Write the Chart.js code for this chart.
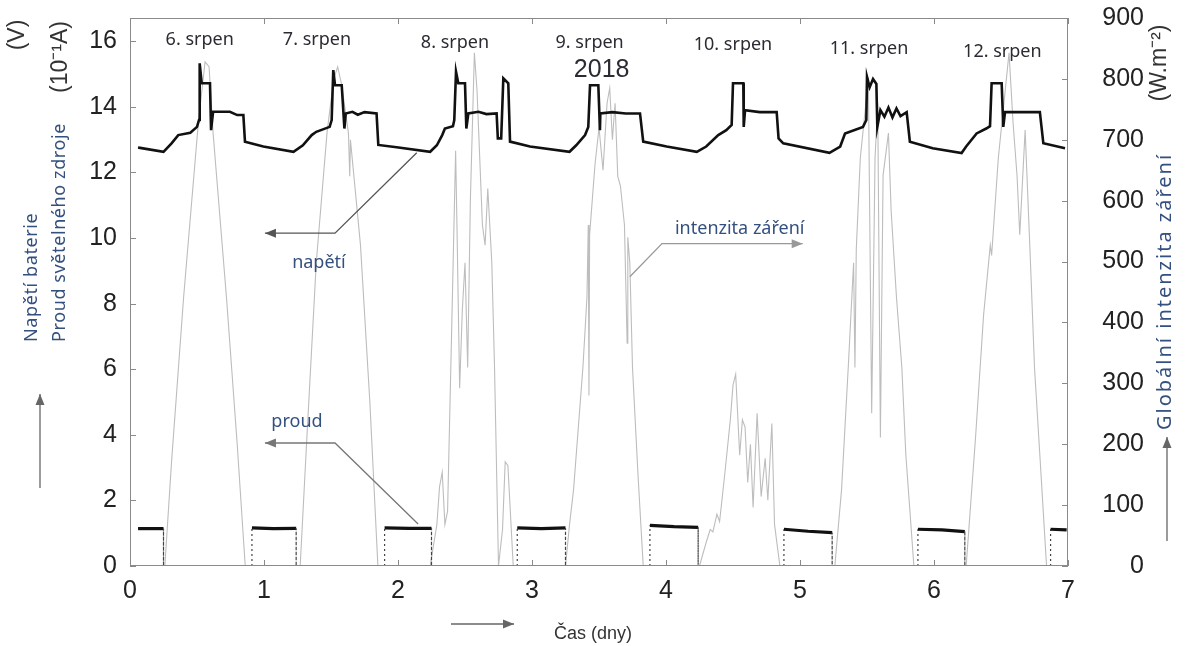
<!DOCTYPE html>
<html>
<head>
<meta charset="utf-8">
<script src="https://cdn.jsdelivr.net/npm/chart.js@4.4.1/dist/chart.umd.min.js"></script>
<style>
  html, body { margin: 0; padding: 0; background: #fff; }
  #wrap { width: 1186px; height: 646px; }
</style>
</head>
<body>
<div id="wrap"><canvas id="myChart" width="1186" height="646"></canvas></div>
<script>
'use strict';

// cas ve dnech od 6. srpna 2018 00:00
let napetiDny = [
  0.06, 0.075, 0.25, 0.31, 0.36, 0.45, 0.50, 0.515, 0.52, 0.535, 0.597, 0.605, 0.62, 0.70, 0.746, 0.80, 0.846, 0.858, 0.995, 1.22,
  1.29, 1.356, 1.39, 1.49, 1.505, 1.517, 1.53, 1.58, 1.60, 1.61, 1.66, 1.70, 1.75, 1.84, 1.853, 1.99, 2.24,
  2.29, 2.33, 2.35, 2.41, 2.42, 2.433, 2.45, 2.50, 2.51, 2.525, 2.60, 2.66, 2.736, 2.745, 2.77, 2.786, 2.823, 2.836, 2.985, 3.28,
  3.33, 3.396, 3.42, 3.433, 3.495, 3.507, 3.51, 3.60, 3.70, 3.806, 3.83, 4.005, 4.23,
  4.30, 4.39, 4.45, 4.49, 4.50, 4.577, 4.58, 4.59, 4.70, 4.826, 4.84, 4.875, 5.22,
  5.30, 5.336, 5.47, 5.495, 5.50, 5.52, 5.545, 5.57, 5.577, 5.60, 5.63, 5.66, 5.69, 5.72, 5.75, 5.796, 5.82, 5.99, 6.206,
  6.24, 6.318, 6.39, 6.418, 6.43, 6.505, 6.517, 6.53, 6.65, 6.79, 6.816, 6.978
];
let napetiV = [
  12.76, 12.75, 12.63, 12.89, 13.14, 13.21, 13.39, 13.60, 15.33, 14.72, 14.72, 13.29, 13.85, 13.85, 13.85, 13.75, 13.75, 12.94, 12.79, 12.63,
  12.83, 13.14, 13.24, 13.39, 13.60, 15.12, 14.66, 14.66, 13.34, 13.80, 13.85, 13.76, 13.84, 13.80, 12.84, 12.77, 12.63,
  12.83, 13.14, 13.34, 13.41, 13.60, 15.07, 14.72, 14.72, 13.34, 13.80, 13.85, 13.78, 13.80, 13.04, 13.04, 14.87, 14.72, 12.94, 12.79, 12.63,
  12.83, 13.14, 13.39, 14.66, 14.66, 13.29, 13.80, 13.84, 13.80, 13.80, 12.94, 12.79, 12.63,
  12.79, 13.14, 13.29, 13.45, 14.72, 14.72, 13.39, 13.90, 13.84, 13.84, 13.04, 12.89, 12.60,
  12.79, 13.19, 13.39, 13.60, 14.92, 14.60, 14.85, 14.70, 13.39, 13.90, 13.70, 13.98, 13.68, 13.95, 13.72, 13.84, 12.94, 12.74, 12.59,
  12.79, 13.19, 13.34, 13.41, 14.72, 14.72, 13.39, 13.84, 13.84, 13.84, 12.89, 12.74
];

// proud svetelneho zdroje (10^-1 A), noc: null = prerusena cara
let proudDny = [
  0.06, 0.25, 0.25, 0.2501,
  0.91, 0.91, 1.07, 1.24, 1.24, 1.2401,
  1.90, 1.90, 2.08, 2.25, 2.25, 2.2501,
  2.89, 2.89, 3.07, 3.25, 3.25, 3.2501,
  3.88, 3.88, 4.06, 4.24, 4.24, 4.2401,
  4.88, 4.88, 5.06, 5.24, 5.24, 5.2401,
  5.88, 5.88, 6.06, 6.23, 6.23, 6.2301,
  6.87, 6.87, 6.99
];
let proudA = [
  1.14, 1.14, 0, null,
  0, 1.16, 1.14, 1.15, 0, null,
  0, 1.16, 1.15, 1.15, 0, null,
  0, 1.16, 1.14, 1.16, 0, null,
  0, 1.24, 1.20, 1.18, 0, null,
  0, 1.12, 1.06, 1.02, 0, null,
  0, 1.12, 1.10, 1.05, 0, null,
  0, 1.12, 1.10
];

// globalni intenzita zareni (W.m^-2)
let zareniDny = [
  0.00, 0.26, 0.31, 0.40, 0.51, 0.56, 0.59, 0.62, 0.72, 0.80, 0.86,
  1.27, 1.32, 1.39, 1.47, 1.52, 1.55, 1.58, 1.63, 1.64, 1.645, 1.72, 1.79, 1.85,
  2.24, 2.29, 2.31, 2.33, 2.35, 2.37, 2.40, 2.43, 2.44, 2.46, 2.48, 2.50, 2.52, 2.54, 2.57, 2.59, 2.61, 2.63, 2.65, 2.67, 2.70, 2.72, 2.75, 2.78, 2.80, 2.82, 2.86,
  3.25, 3.28, 3.31, 3.34, 3.38, 3.41, 3.42, 3.425, 3.43, 3.47, 3.50, 3.53, 3.56, 3.58, 3.60, 3.62, 3.64, 3.66, 3.69, 3.71, 3.715, 3.73, 3.75, 3.79, 3.83,
  4.25, 4.30, 4.33, 4.35, 4.38, 4.40, 4.44, 4.48, 4.50, 4.52, 4.55, 4.57, 4.59, 4.61, 4.63, 4.65, 4.68, 4.71, 4.74, 4.76, 4.79, 4.81, 4.85,
  5.26, 5.31, 5.36, 5.40, 5.41, 5.42, 5.45, 5.49, 5.51, 5.535, 5.56, 5.58, 5.60, 5.62, 5.66, 5.68, 5.72, 5.76, 5.79, 5.85,
  6.24, 6.31, 6.37, 6.42, 6.43, 6.48, 6.52, 6.56, 6.59, 6.62, 6.64, 6.68, 6.72, 6.75, 6.79, 6.84, 7.00
];
let zareniW = [
  0, 0, 171, 441, 728, 828, 820, 711, 441, 200, 0,
  0, 211, 498, 711, 800, 820, 790, 711, 640, 700, 527, 269, 0,
  0, 68, 130, 154, 68, 90, 383, 682, 560, 292, 420, 498, 326, 600, 843, 780, 670, 560, 527, 620, 498, 330, 0, 60, 171, 165, 0,
  0, 68, 125, 211, 326, 441, 560, 280, 544, 659, 720, 650, 760, 785, 700, 760, 640, 624, 560, 366, 540, 498, 326, 154, 0,
  0, 39, 60, 56, 85, 73, 154, 240, 297, 315, 182, 240, 228, 137, 200, 96, 251, 114, 177, 108, 234, 68, 0,
  0, 125, 326, 498, 326, 520, 670, 756, 802, 251, 670, 760, 211, 642, 711, 584, 441, 326, 182, 0,
  0, 211, 412, 527, 510, 670, 756, 843, 728, 640, 544, 716, 498, 326, 182, 0, 0
];

let dnyTicks = [0, 1, 2, 3, 4, 5, 6, 7];
let leveTicks = [0, 2, 4, 6, 8, 10, 12, 14, 16];
let praveTicks = [0, 100, 200, 300, 400, 500, 600, 700, 800, 900];

let popiskyDnu = ['6. srpen', '7. srpen', '8. srpen', '9. srpen', '10. srpen', '11. srpen', '12. srpen'];
let popiskyX = [0.52, 1.395, 2.425, 3.43, 4.50, 5.515, 6.51];
let popiskyY = [16.04, 16.04, 15.95, 15.95, 15.88, 15.76, 15.67];

function toPoints(xs, ys) {
  let pts = [];
  for (let i = 0; i < xs.length; i++) {
    pts.push({ x: xs[i], y: ys[i] });
  }
  return pts;
}

function drawArrow(c, pts, color) {
  c.strokeStyle = color;
  c.fillStyle = color;
  c.lineWidth = 1.3;
  c.beginPath();
  c.moveTo(pts[0][0], pts[0][1]);
  for (let i = 1; i < pts.length; i++) {
    c.lineTo(pts[i][0], pts[i][1]);
  }
  c.stroke();
  let n = pts.length;
  let ang = Math.atan2(pts[n - 1][1] - pts[n - 2][1], pts[n - 1][0] - pts[n - 2][0]);
  let tx = pts[n - 1][0];
  let ty = pts[n - 1][1];
  c.beginPath();
  c.moveTo(tx, ty);
  c.lineTo(tx - 11 * Math.cos(ang) + 4.5 * Math.sin(ang), ty - 11 * Math.sin(ang) - 4.5 * Math.cos(ang));
  c.lineTo(tx - 11 * Math.cos(ang) - 4.5 * Math.sin(ang), ty - 11 * Math.sin(ang) + 4.5 * Math.cos(ang));
  c.closePath();
  c.fill();
}

function rotatedText(c, text, x, y, align) {
  c.save();
  c.translate(x, y);
  c.rotate(-Math.PI / 2);
  c.textAlign = align;
  c.textBaseline = 'middle';
  c.fillText(text, 0, 0);
  c.restore();
}

// bez automatickych okraju kvuli popiskum os
function noPad(s) {
  s.paddingTop = 0;
  s.paddingBottom = 0;
  s.paddingLeft = 0;
  s.paddingRight = 0;
}

let extrasPlugin = {
  id: 'extras',
  afterDatasetsDraw(chart) {
    let c = chart.ctx;
    let a = chart.chartArea;
    let xs = chart.scales.x;
    let ys = chart.scales.y;
    let ys2 = chart.scales.y2;
    let px = v => xs.getPixelForValue(v);
    let py = v => ys.getPixelForValue(v);

    c.save();
    // ramecek a vnitrni znacky
    c.strokeStyle = '#8a8a8a';
    c.lineWidth = 1;
    c.strokeRect(a.left + 0.5, a.top + 0.5, a.right - a.left - 1, a.bottom - a.top - 1);
    c.beginPath();
    leveTicks.forEach(t => {
      let y = Math.round(py(t)) + 0.5;
      c.moveTo(a.left, y); c.lineTo(a.left + 6, y);
    });
    praveTicks.forEach(t => {
      let y = Math.round(ys2.getPixelForValue(t)) + 0.5;
      c.moveTo(a.right, y); c.lineTo(a.right - 6, y);
    });
    dnyTicks.forEach(t => {
      let x = Math.round(px(t)) + 0.5;
      c.moveTo(x, a.top); c.lineTo(x, a.top + 6);
      c.moveTo(x, a.bottom); c.lineTo(x, a.bottom - 6);
    });
    c.stroke();

    // popisky dnu
    c.fillStyle = '#2b2b33';
    c.font = '18px "Noto Sans"';
    c.textAlign = 'center';
    c.textBaseline = 'middle';
    popiskyDnu.forEach((s, i) => {
      c.fillText(s, px(popiskyX[i]), py(popiskyY[i]));
    });
    c.font = '25px "Liberation Sans"';
    c.fillText('2018', px(3.52), py(15.12));

    // sipky k jednotlivym krivkam
    drawArrow(c, [[px(2.14), py(12.6)], [px(1.53), py(10.15)], [px(1.007), py(10.15)]], '#555');
    drawArrow(c, [[px(2.15), py(1.28)], [px(1.53), py(3.75)], [px(1.007), py(3.75)]], '#777');
    drawArrow(c, [[px(3.73), py(8.82)], [px(3.97), py(9.83)], [px(5.02), py(9.83)]], '#999');

    c.fillStyle = '#34507f';
    c.font = '18px "Noto Sans"';
    c.fillText('napětí', px(1.41), py(9.24));
    c.fillText('proud', px(1.246), py(4.39));
    c.fillText('intenzita záření', px(4.55), py(10.27));

    // popisky os
    c.fillStyle = '#34507f';
    c.font = '18px "Noto Sans"';
    c.letterSpacing = '0.6px';
    rotatedText(c, 'Napětí baterie', 32, 342, 'left');
    rotatedText(c, 'Proud světelného zdroje', 60, 342, 'left');
    c.font = '20px "Noto Sans"';
    c.letterSpacing = '2px';
    rotatedText(c, 'Globální intenzita záření', 1165, 430, 'left');
    c.letterSpacing = '0px';

    c.fillStyle = '#333';
    c.font = '23px "Liberation Sans"';
    rotatedText(c, '(V)', 18, 35, 'center');
    rotatedText(c, '(10\u207B\u00B9A)', 61, 57, 'center');
    rotatedText(c, '(W.m\u207B\u00B2)', 1160, 63, 'center');

    c.font = '18px "Liberation Sans"';
    c.textAlign = 'left';
    c.fillText('Čas (dny)', 554, 634);

    drawArrow(c, [[40, 488], [40, 394]], '#666');
    drawArrow(c, [[1167, 541], [1167, 437]], '#666');
    drawArrow(c, [[451, 624], [514, 624]], '#666');
    c.restore();
  }
};

let ctx = document.getElementById('myChart');

let tickFont = { family: '"Liberation Sans", Arial, sans-serif', size: 25 };

new Chart(ctx, {
  type: 'line',
  data: {
    datasets: [
      {
        label: 'napětí',
        data: toPoints(napetiDny, napetiV),
        yAxisID: 'y',
        borderColor: '#111',
        borderWidth: 2.6,
        pointRadius: 0,
        tension: 0
      },
      {
        label: 'proud',
        data: toPoints(proudDny, proudA),
        yAxisID: 'y',
        borderColor: '#111',
        borderWidth: 3.2,
        pointRadius: 0,
        spanGaps: false,
        tension: 0,
        segment: {
          borderDash: s => (s.p0.parsed.x === s.p1.parsed.x ? [2, 3] : undefined),
          borderWidth: s => (s.p0.parsed.x === s.p1.parsed.x ? 1.2 : undefined),
          borderColor: s => (s.p0.parsed.x === s.p1.parsed.x ? '#444' : undefined)
        }
      },
      {
        label: 'intenzita záření',
        data: toPoints(zareniDny, zareniW),
        yAxisID: 'y2',
        borderColor: '#bdbdbd',
        borderWidth: 1.1,
        pointRadius: 0,
        tension: 0
      }
    ]
  },
  options: {
    responsive: false,
    animation: false,
    devicePixelRatio: 1,
    layout: { padding: { top: 18, right: 42, left: 0, bottom: 0 } },
    plugins: { legend: { display: false }, tooltip: { enabled: false } },
    scales: {
      x: {
        type: 'linear',
        min: 0,
        max: 7,
        ticks: { stepSize: 1, padding: 10, color: '#222', font: tickFont, maxRotation: 0 },
        grid: { display: false, drawTicks: false },
        border: { display: false },
        afterFit: s => { s.height = 80; noPad(s); }
      },
      y: {
        position: 'left',
        min: 0,
        max: 16.71,
        ticks: { stepSize: 2, padding: 13, color: '#222', font: tickFont, includeBounds: false },
        grid: { display: false, drawTicks: false },
        border: { display: false },
        afterFit: s => { s.width = 130; noPad(s); }
      },
      y2: {
        position: 'right',
        min: 0,
        max: 900,
        ticks: { stepSize: 100, padding: 32, color: '#222', font: tickFont, crossAlign: 'far' },
        grid: { display: false, drawTicks: false },
        border: { display: false },
        afterFit: s => { s.width = 76; noPad(s); }
      }
    }
  },
  plugins: [extrasPlugin]
});
</script>
</body>
</html>
